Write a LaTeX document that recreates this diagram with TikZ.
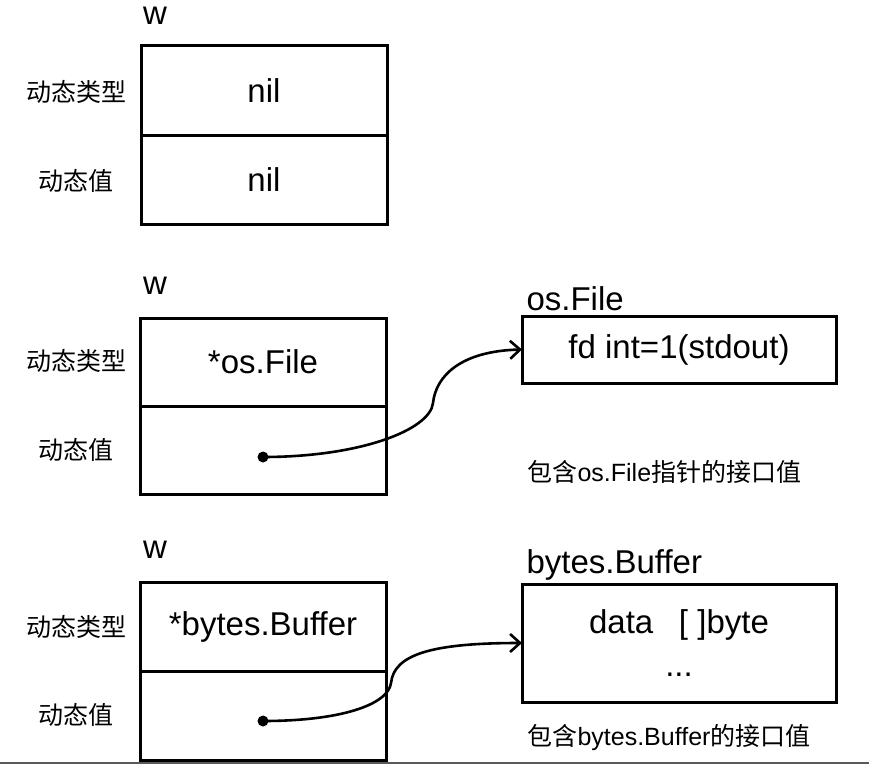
\documentclass[tikz,border=0pt]{standalone}
\usepackage{fontspec}
\setmainfont{Liberation Sans}
\newfontfamily\cjk{Noto Sans CJK SC}
\usetikzlibrary{positioning,arrows.meta}

\begin{document}
\begin{tikzpicture}[
    x=1pt, y=-1pt,
    cell/.style={draw, rectangle, minimum width=246pt, minimum height=89pt, outer sep=0pt, line width=3pt, font=\fontsize{33}{39}\selectfont},
    obj/.style={draw, rectangle, minimum width=314pt, outer sep=0pt, line width=3pt, align=center, font=\fontsize{33}{39}\selectfont},
    title/.style={font=\fontsize{33}{39}\selectfont},
    cn/.style={font=\fontsize{25}{30}\selectfont\cjk},
    caption/.style={anchor=west, font=\fontsize{25}{30}\selectfont},
    dot/.style={circle, fill, inner sep=0pt, minimum size=11pt},
    ptr/.style={-{Straight Barb[length=10pt,width=18pt]}, line width=2.6pt}
]
\useasboundingbox (0,0) rectangle (869,765);

% Nil interface value
\node[title] (w1) at (155,16) {w};
\node[cell] (t1) at (264,90.5) {nil};
\node[cell, below=0pt of t1] (v1) {nil};
\node[cn] (lt1) at (76,92) {动态类型};
\node[cn] (lv1) at (76,181) {动态值};

% Interface value holding *os.File
\node[title] (w2) at (155,286) {w};
\node[cell, minimum height=88pt] (t2) at (263,362) {*os.File};
\node[cell, minimum height=88pt, below=0pt of t2] (v2) {};
\node[cn] (lt2) at (76,361) {动态类型};
\node[cn] (lv2) at (76,450) {动态值};
\node[dot] (d2) at (263,457) {};

% os.File value
\node[obj, minimum height=67pt] (f2) at (679,349.5) {fd int=1(stdout)};
\node[title, anchor=base west] (n2) at (523,310) {os.File};
\node[caption] (c2) at (524,472) {{\cjk 包含}os.File{\cjk 指针的接口值}};

% Pointer to os.File
\coordinate (m2) at (433,403);
\draw[ptr] (d2.center) .. controls (360,457) and (430,430) .. (m2)
    .. controls (436,375) and (462,351) .. (f2.west);

% Interface value holding *bytes.Buffer
\node[title] (w3) at (155,550) {w};
\node[cell] (t3) at (263,626.5) {*bytes.Buffer};
\node[cell, below=0pt of t3] (v3) {};
\node[cn] (lt3) at (76,627) {动态类型};
\node[cn] (lv3) at (76,715) {动态值};
\node[dot] (d3) at (263,721) {};

% bytes.Buffer value
\node[obj, minimum height=118pt] (f3) at (679,643) {data\hspace{0.5em} [ ]byte\\[4pt]...};
\node[title, anchor=base west] (n3) at (523,573) {bytes.Buffer};
\node[caption] (c3) at (524,738) {{\cjk 包含}bytes.Buffer{\cjk 的接口值}};

% Pointer to bytes.Buffer
\coordinate (m3) at (391,683);
\draw[ptr] (d3.center) .. controls (340,721) and (388,705) .. (m3)
    .. controls (394,655) and (430,643) .. (f3.west);

% Bottom rule
\draw[line width=2pt, black!65] (0,763) -- (869,763);

\end{tikzpicture}
\end{document}
